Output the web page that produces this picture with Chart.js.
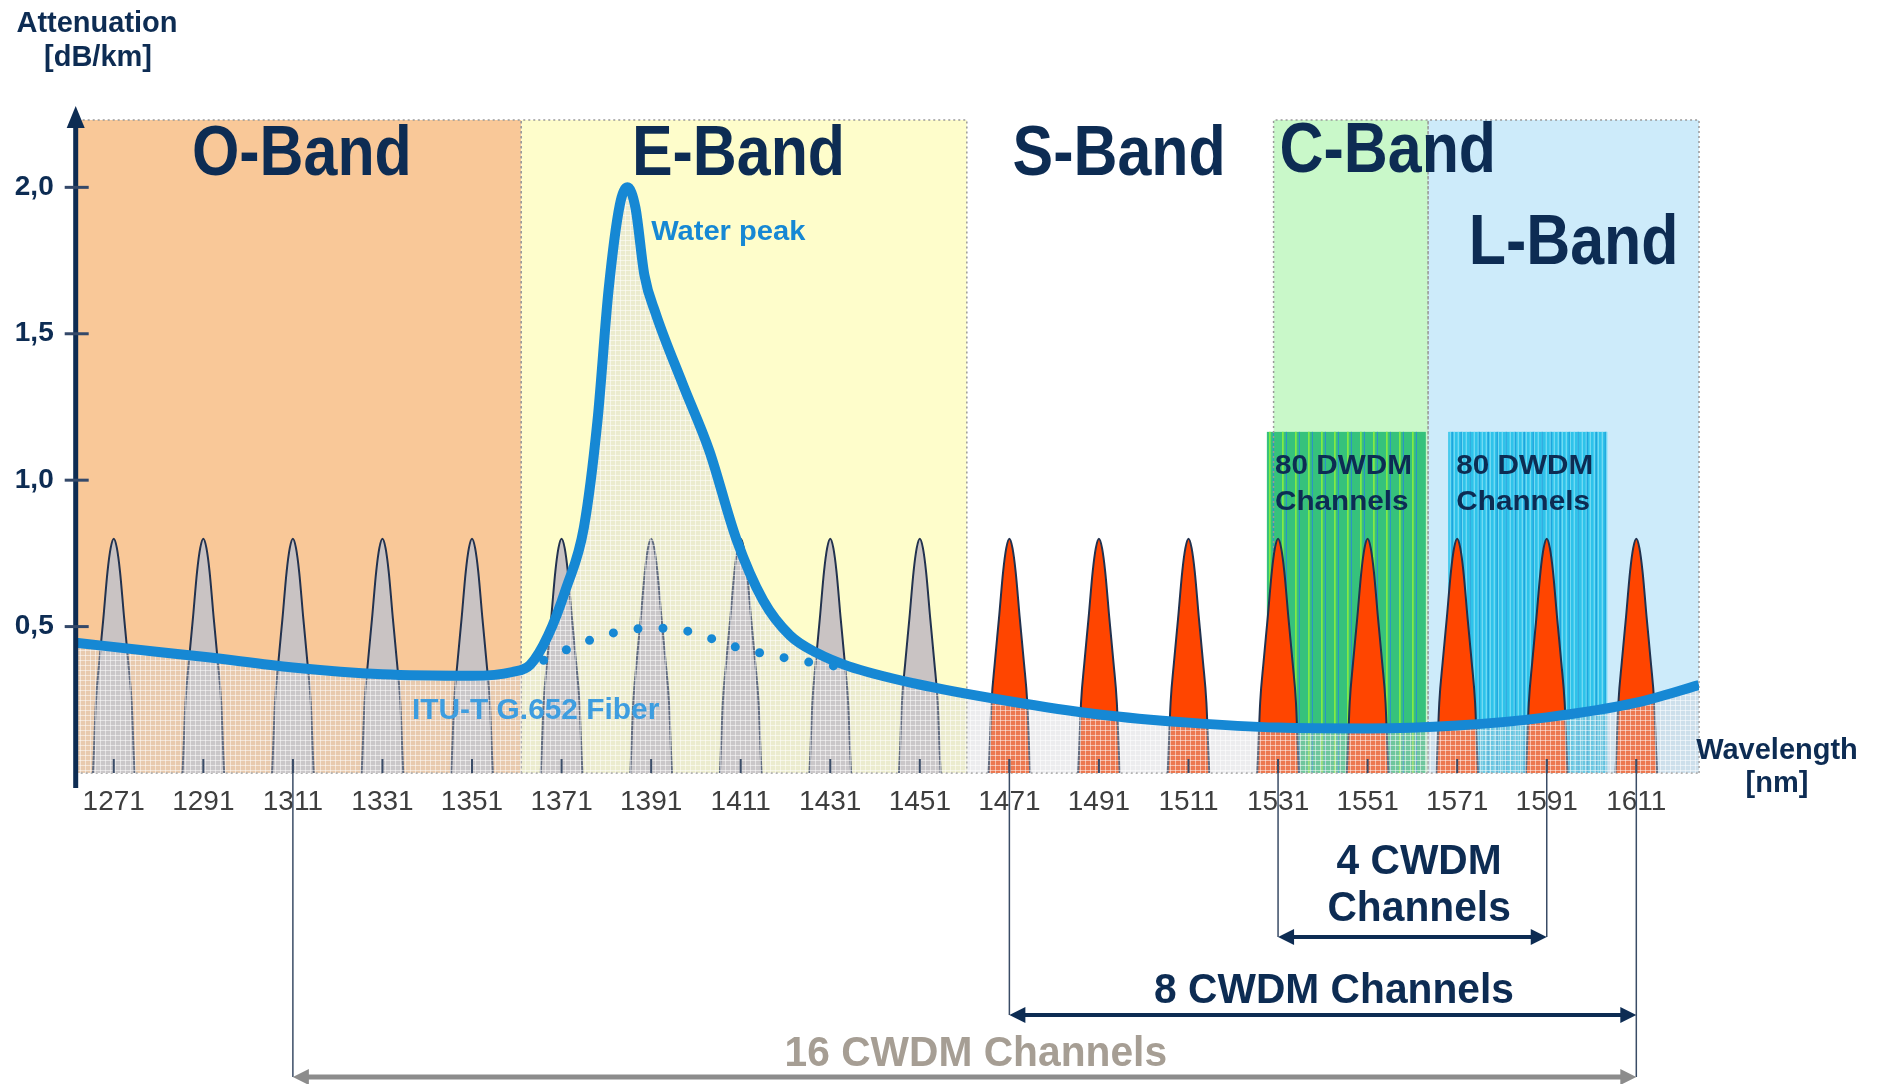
<!DOCTYPE html>
<html>
<head>
<meta charset="utf-8">
<script src="https://cdn.jsdelivr.net/npm/chart.js@4.4.1/dist/chart.umd.min.js"></script>
<style>
  html, body { margin: 0; padding: 0; background: #fff; }
  canvas { display: block; }
</style>
</head>
<body>
<canvas id="chart" width="1883" height="1084"></canvas>
<script>
// ---- data ----
const channels = [1271, 1291, 1311, 1331, 1351, 1371, 1391, 1411, 1431, 1451,
                  1471, 1491, 1511, 1531, 1551, 1571, 1591, 1611];
const channelPeak = [0.8, 0.8, 0.8, 0.8, 0.8, 0.8, 0.8, 0.8, 0.8, 0.8,
                     0.8, 0.8, 0.8, 0.8, 0.8, 0.8, 0.8, 0.8];
// shape of one CWDM channel (offset in half-widths, fraction of peak)
const peakShapeDx = [-1, -0.96, -0.86, -0.7, -0.5, -0.3, -0.15, 0, 0.15, 0.3, 0.5, 0.7, 0.86, 0.96, 1];
const peakShapeLevel = [0, 0.08, 0.3, 0.47, 0.66, 0.86, 0.96, 1, 0.96, 0.86, 0.66, 0.47, 0.3, 0.08, 0];
const peakHalfWidth = 4.65;

const fiberNm = [1262.5, 1280, 1291, 1311, 1331, 1351, 1360, 1364, 1368, 1372, 1376, 1379,
                 1381.5, 1384, 1385.7, 1387.5, 1389.5, 1392, 1398, 1404, 1410, 1416, 1422,
                 1428, 1435, 1450, 1471, 1491, 1511, 1531, 1551, 1571, 1591, 1611, 1625];
const fiberLoss = [0.445, 0.415, 0.397, 0.36, 0.337, 0.332, 0.345, 0.37, 0.47, 0.63, 0.84, 1.2,
                   1.65, 1.94, 2.0, 1.93, 1.7, 1.57, 1.33, 1.1, 0.8, 0.59, 0.47,
                   0.41, 0.365, 0.305, 0.245, 0.2, 0.172, 0.155, 0.152, 0.162, 0.19, 0.24, 0.3];

// low-water-peak fiber (dotted)
const dryNm = [1367, 1375, 1383, 1391, 1399, 1410, 1422, 1434];
const dryLoss = [0.385, 0.44, 0.48, 0.495, 0.485, 0.43, 0.39, 0.36];

const bandNames = ['O-Band', 'E-Band', 'S-Band', 'C-Band', 'L-Band'];
const bandStart = [1262.5, 1362, 1461.5, 1530, 1564.5];
const bandEnd = [1362, 1461.5, 1530, 1564.5, 1625];

const dwdmStart = [1528.5, 1569];
const dwdmEnd = [1564, 1604.5];
const dwdmTop = [1.165, 1.165];

const spanLabels = [['4 CWDM', 'Channels'], ['8 CWDM Channels'], ['16 CWDM Channels']];
const spanFrom = [1531, 1471, 1311];
const spanTo = [1591, 1611, 1611];

const yTicks = [0.5, 1.0, 1.5, 2.0];

// ---- styles ----
const NAVY = '#0d2c53';
const BLUE = '#1688d4';
const FONT = "'Liberation Sans', Arial, sans-serif";
const bandFill = ['#f9c898', '#fefdcb', null, '#c9f8c9', '#cdebfa'];
const bandLabelAt = [[1313, 2.107, 'center'], [1410.5, 2.107, 'center'], [1495.5, 2.107, 'center'],
                     [1555.5, 2.12, 'center'], [1597, 1.805, 'center']];
const spanLabelShift = [1.5, 2.5, 2.5];

function makeGrid() {
  const c = document.createElement('canvas');
  c.width = 5; c.height = 5;
  const g = c.getContext('2d');
  g.fillStyle = 'rgba(205,205,210,0.38)';
  g.fillRect(0, 0, 5, 5);
  g.fillStyle = 'rgba(255,255,255,0.5)';
  g.fillRect(0, 0, 5, 1);
  g.fillRect(0, 0, 1, 5);
  return g.createPattern(c, 'repeat');
}

function txt(ctx, s, px, py, size, color, align, sx, weight) {
  ctx.save();
  ctx.translate(px, py);
  ctx.scale(sx || 1, 1);
  ctx.font = (weight || 'bold') + ' ' + size + 'px ' + FONT;
  ctx.fillStyle = color;
  ctx.textAlign = align || 'center';
  ctx.textBaseline = 'middle';
  ctx.fillText(s, 0, 0);
  ctx.restore();
}

function line(ctx, x1, y1, x2, y2, color, w) {
  ctx.beginPath();
  ctx.moveTo(x1, y1);
  ctx.lineTo(x2, y2);
  ctx.strokeStyle = color;
  ctx.lineWidth = w;
  ctx.stroke();
}

function arrowHead(ctx, tipX, tipY, dir, color) {
  // dir: -1 points left, 1 points right
  ctx.beginPath();
  ctx.moveTo(tipX, tipY);
  ctx.lineTo(tipX - dir * 16, tipY - 8);
  ctx.lineTo(tipX - dir * 16, tipY + 8);
  ctx.closePath();
  ctx.fillStyle = color;
  ctx.fill();
}

const decor = {
  id: 'decor',
  beforeDatasetsDraw(chart) {
    const { ctx, scales: { x, y } } = chart;
    const top = y.getPixelForValue(y.max);
    const base = y.getPixelForValue(0);
    ctx.save();
    bandNames.forEach((n, i) => {
      if (!bandFill[i]) return;
      const l = x.getPixelForValue(bandStart[i]);
      const r = x.getPixelForValue(bandEnd[i]);
      ctx.fillStyle = bandFill[i];
      ctx.fillRect(l, top, r - l, base - top);
    });

    // DWDM boxes
    dwdmStart.forEach((s, i) => {
      const l = x.getPixelForValue(s);
      const r = x.getPixelForValue(dwdmEnd[i]);
      const t = y.getPixelForValue(dwdmTop[i]);
      ctx.fillStyle = i === 0 ? '#36c27c' : '#2ec3ea';
      ctx.fillRect(l, t, r - l, base - t);
      if (i === 0) {
        for (let px = l + 3; px < r; px += 13) {
          line(ctx, px, t, px, base, '#8ef03e', 1.5);
          line(ctx, px + 3.5, t, px + 3.5, base, '#2a8fd0', 1);
        }
      } else {
        for (let px = l + 2; px < r; px += 4) line(ctx, px, t, px, base, '#8be3f7', 1);
        for (let px = l + 4; px < r; px += 9) line(ctx, px, t, px, base, '#1b9bd9', 1);
      }
    });

    // dotted outlines
    ctx.setLineDash([2, 3]);
    ctx.strokeStyle = '#9a9a9a';
    ctx.lineWidth = 1.5;
    bandNames.forEach((n, i) => {
      if (!bandFill[i]) return;
      const l = x.getPixelForValue(bandStart[i]);
      const r = x.getPixelForValue(bandEnd[i]);
      ctx.beginPath();
      ctx.moveTo(l, base); ctx.lineTo(l, top); ctx.lineTo(r, top); ctx.lineTo(r, base);
      ctx.stroke();
    });
    ctx.beginPath();
    ctx.moveTo(x.left, base); ctx.lineTo(x.right, base);
    ctx.stroke();
    ctx.setLineDash([]);

    // DWDM labels
    dwdmStart.forEach((s, i) => {
      const px = x.getPixelForValue(s + 1.8);
      txt(ctx, '80 DWDM', px, y.getPixelForValue(1.048), 27, NAVY, 'left', 1.1);
      txt(ctx, 'Channels', px, y.getPixelForValue(0.922), 27, NAVY, 'left', 1.1);
    });
    ctx.restore();
  },
  afterDatasetsDraw(chart) {
    const { ctx, scales: { x, y } } = chart;
    const top = y.getPixelForValue(y.max);
    const base = y.getPixelForValue(0);
    ctx.save();

    // channel tick marks
    channels.forEach(c => {
      const px = x.getPixelForValue(c);
      line(ctx, px, base - 14, px, base, '#3b4d69', 2);
    });

    // channel span arrows
    const arrowY = [base + 164, base + 242, base + 304];
    const textY = [[base + 89, base + 136], [base + 218], [base + 281]];
    const connectors = {};
    spanFrom.forEach((f, i) => {
      [f, spanTo[i]].forEach(v => {
        connectors[v] = Math.max(connectors[v] || 0, arrowY[i]);
      });
    });
    Object.keys(connectors).forEach(v => {
      const px = x.getPixelForValue(+v);
      line(ctx, px, base - 14, px, connectors[v], '#3a4c66', 1.5);
    });
    spanFrom.forEach((f, i) => {
      const l = x.getPixelForValue(f);
      const r = x.getPixelForValue(spanTo[i]);
      const gray = i === 2;
      const col = gray ? '#8c8c8c' : NAVY;
      line(ctx, l + 10, arrowY[i], r - 10, arrowY[i], col, gray ? 5 : 4);
      arrowHead(ctx, l, arrowY[i], -1, col);
      arrowHead(ctx, r, arrowY[i], 1, col);
      const cx = x.getPixelForValue((f + spanTo[i]) / 2 + spanLabelShift[i]);
      spanLabels[i].forEach((s, k) => {
        txt(ctx, s, cx, textY[i][k], 42, gray ? '#a69e94' : NAVY, 'center', 0.97);
      });
    });

    // y axis with arrow
    const ax = x.left;
    line(ctx, ax, base + 15, ax, top + 4, NAVY, 5);
    ctx.beginPath();
    ctx.moveTo(ax, top - 14);
    ctx.lineTo(ax - 9, top + 8);
    ctx.lineTo(ax + 9, top + 8);
    ctx.closePath();
    ctx.fillStyle = NAVY;
    ctx.fill();
    yTicks.forEach(v => {
      const py = y.getPixelForValue(v);
      line(ctx, ax - 11, py, ax + 13, py, '#34496a', 3);
    });

    // band titles
    bandNames.forEach((n, i) => {
      const p = bandLabelAt[i];
      txt(ctx, n, x.getPixelForValue(p[0]), y.getPixelForValue(p[1]), 70, NAVY, p[2], 0.87);
    });

    txt(ctx, 'Water peak', x.getPixelForValue(1391), y.getPixelForValue(1.845), 28, BLUE, 'left', 1.04);
    txt(ctx, 'ITU-T G.652 Fiber', x.getPixelForValue(1337.6), y.getPixelForValue(0.212), 29, '#3d9de0', 'left', 1.03);

    // axis titles
    txt(ctx, 'Attenuation', 97, 24, 29, NAVY);
    txt(ctx, '[dB/km]', 98, 58, 29, NAVY);
    txt(ctx, 'Wavelength', x.right + 78, base - 22, 29, NAVY);
    txt(ctx, '[nm]', x.right + 78, base + 11, 29, NAVY);
    ctx.restore();
  }
};

const datasets = [];
datasets.push({
  label: 'low water peak',
  data: dryNm.map((v, i) => ({ x: v, y: dryLoss[i] })),
  borderColor: BLUE,
  borderWidth: 9,
  borderDash: [0, 25],
  borderCapStyle: 'round',
  pointRadius: 0,
  fill: false,
  tension: 0.4,
  cubicInterpolationMode: 'monotone',
  order: 0
});
datasets.push({
  label: 'ITU-T G.652 Fiber',
  data: fiberNm.map((v, i) => ({ x: v, y: fiberLoss[i] })),
  borderColor: BLUE,
  borderWidth: 10,
  borderJoinStyle: 'round',
  backgroundColor: makeGrid(),
  fill: 'origin',
  pointRadius: 0,
  tension: 0.4,
  cubicInterpolationMode: 'monotone',
  order: 1
});
channels.forEach((c, i) => {
  datasets.push({
    label: String(c),
    data: peakShapeDx.map((d, k) => ({ x: c + d * peakHalfWidth, y: channelPeak[i] * peakShapeLevel[k] })),
    borderColor: '#22324f',
    borderWidth: 2,
    backgroundColor: c < 1460 ? '#c9c3c3' : '#ff4500',
    fill: 'origin',
    pointRadius: 0,
    tension: 0.4,
    cubicInterpolationMode: 'monotone',
    order: 2
  });
});

new Chart(document.getElementById('chart').getContext('2d'), {
  type: 'line',
  data: { datasets },
  plugins: [decor],
  options: {
    responsive: false,
    animation: false,
    events: [],
    layout: { padding: { top: 120, right: 184, left: 0, bottom: 0 } },
    plugins: {
      legend: { display: false },
      tooltip: { enabled: false }
    },
    scales: {
      x: {
        type: 'linear',
        min: 1262.5,
        max: 1625,
        afterBuildTicks: (scale) => { scale.ticks = channels.map(v => ({ value: v })); },
        afterFit: (scale) => { scale.height = 311; },
        ticks: {
          autoSkip: false,
          maxRotation: 0,
          padding: 12,
          color: '#3e3e3e',
          font: { family: FONT, size: 28 },
          callback: (v) => String(v)
        },
        grid: { display: false, drawTicks: false },
        border: { display: false }
      },
      y: {
        min: 0,
        max: 2.23,
        afterBuildTicks: (scale) => { scale.ticks = yTicks.map(v => ({ value: v })); },
        afterFit: (scale) => { scale.width = 75.7; },
        ticks: {
          padding: 22,
          color: NAVY,
          font: { family: FONT, size: 28, weight: 'bold' },
          callback: (v) => v.toFixed(1).replace('.', ',')
        },
        grid: { display: false, drawTicks: false },
        border: { display: false }
      }
    }
  }
});
</script>
</body>
</html>
